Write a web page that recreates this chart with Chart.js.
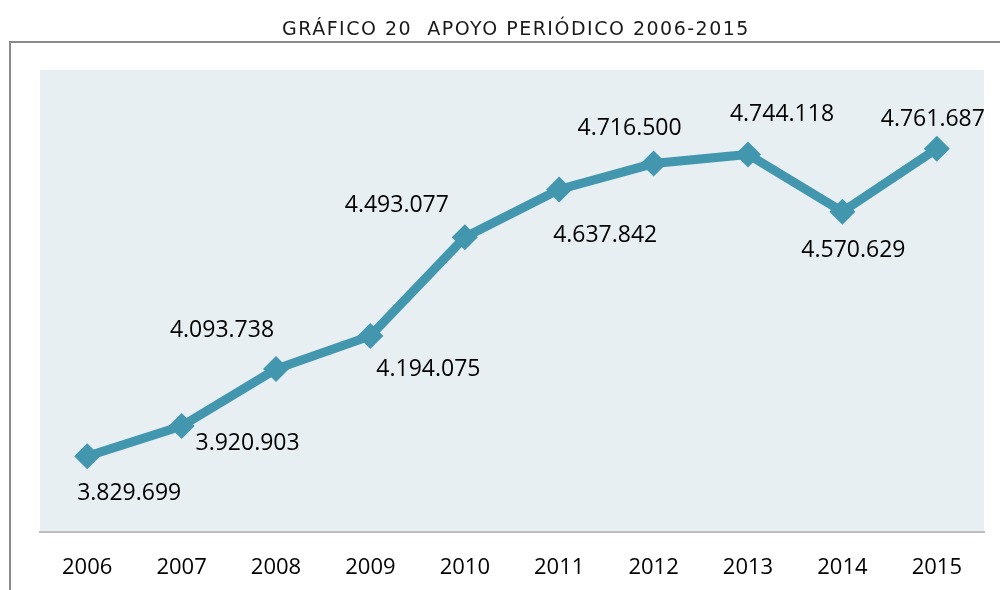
<!DOCTYPE html>
<html>
<head>
<meta charset="utf-8">
<script src="https://cdn.jsdelivr.net/npm/chart.js@4/dist/chart.umd.min.js"></script>
<style>
  html, body { margin: 0; padding: 0; background: #ffffff; }
  #wrap { width: 1000px; height: 590px; position: relative; }
</style>
</head>
<body>
<div id="wrap"><canvas id="c" width="1000" height="590"></canvas></div>
<script>
const titleText = 'GRÁFICO 20  APOYO PERIÓDICO 2006-2015';
const years = ['2006', '2007', '2008', '2009', '2010', '2011', '2012', '2013', '2014', '2015'];
const apoyo = [3829699, 3920903, 4093738, 4194075, 4493077, 4637842, 4716500, 4744118, 4570629, 4761687];
const yMin = 3600000;
const yMax = 5000000;

// label offset (dx, dy) relative to each point
const labelOffsets = [[42, 37], [66, 17], [-54, -39], [58, 33], [-68, -32], [46, 46], [-24, -35], [34, -40], [11, 39], [-4, -29]];

function fmt(v) {
  return String(v).replace(/\B(?=(\d{3})+(?!\d))/g, '.');
}

const decor = {
  id: 'decor',
  beforeDraw(chart) {
    const ctx = chart.ctx;
    const a = chart.chartArea;
    ctx.save();
    ctx.fillStyle = '#e8eff3';
    ctx.fillRect(a.left, a.top, a.right - a.left, a.bottom - a.top);
    ctx.strokeStyle = '#8a8a8a';
    ctx.lineWidth = 2;
    ctx.beginPath();
    ctx.moveTo(1000, 42);
    ctx.lineTo(10, 42);
    ctx.lineTo(10, 590);
    ctx.stroke();
    // title
    ctx.font = '19px "DejaVu Sans"';
    ctx.fillStyle = '#1a1a1a';
    ctx.textAlign = 'center';
    ctx.textBaseline = 'middle';
    if ('letterSpacing' in ctx) ctx.letterSpacing = '1.5px';
    ctx.fillText(titleText, 516, 30);
    ctx.restore();
  },
  afterDatasetsDraw(chart) {
    const ctx = chart.ctx;
    const meta = chart.getDatasetMeta(0);
    ctx.save();
    ctx.font = '23px "Open Sans"';
    ctx.fillStyle = '#000000';
    ctx.textAlign = 'center';
    ctx.textBaseline = 'middle';
    meta.data.forEach((pt, i) => {
      const off = labelOffsets[i];
      ctx.fillText(fmt(apoyo[i]), pt.x + off[0], pt.y + off[1]);
    });
    ctx.restore();
  }
};

new Chart(document.getElementById('c'), {
  type: 'line',
  data: {
    labels: years,
    datasets: [{
      data: apoyo,
      borderColor: '#4297ae',
      backgroundColor: '#4297ae',
      borderWidth: 9,
      pointStyle: 'rectRot',
      pointRadius: 13,
      pointBorderWidth: 0,
      pointBackgroundColor: '#4297ae',
      tension: 0,
      fill: false
    }]
  },
  options: {
    responsive: false,
    animation: false,
    layout: { padding: { left: 40, right: 16, top: 70, bottom: 0 } },
    plugins: {
      legend: { display: false },
      tooltip: { enabled: false },
      title: { display: false }
    },
    scales: {
      x: {
        offset: true,
        grid: { display: false, drawTicks: false },
        border: { display: true, color: '#bdbdbd', width: 2 },
        ticks: { color: '#000000', font: { family: '"Open Sans"', size: 22 }, padding: 23 },
        afterFit(scale) { scale.height = 58; }
      },
      y: {
        display: false,
        min: yMin,
        max: yMax
      }
    }
  },
  plugins: [decor]
});
</script>
</body>
</html>
